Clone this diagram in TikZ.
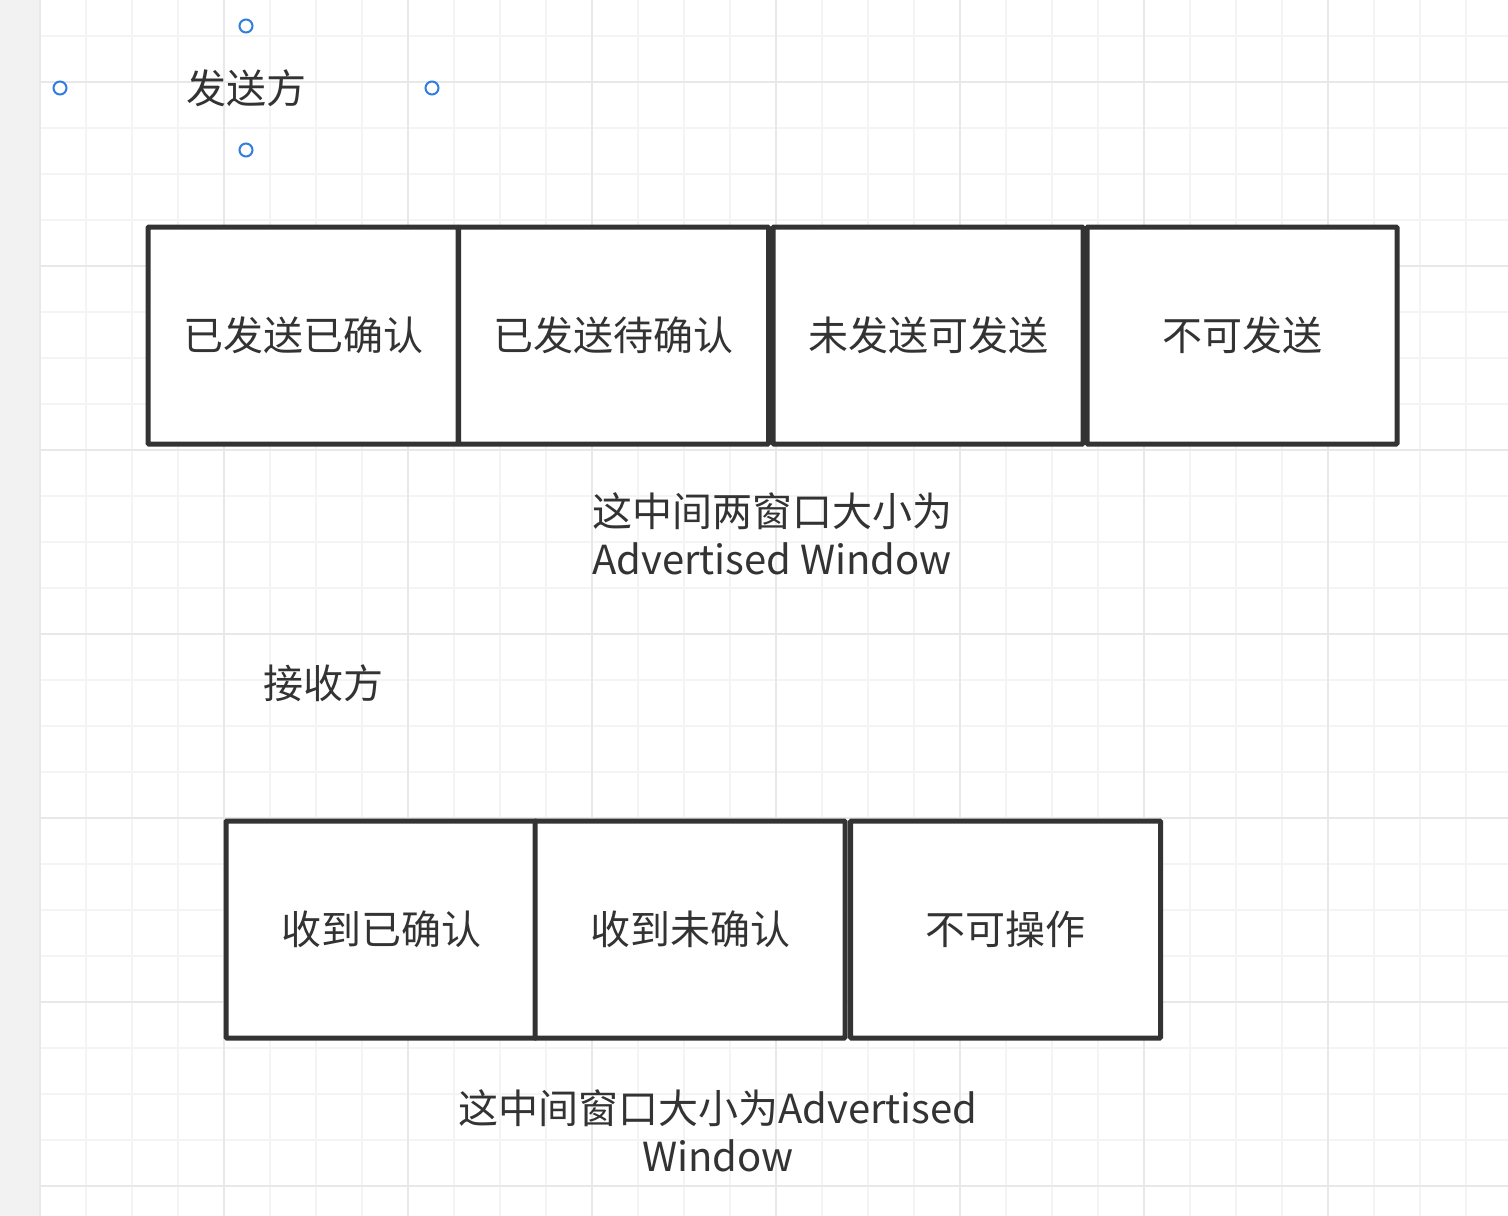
\documentclass[tikz,border=0pt]{standalone}
\usepackage{fontspec}
\setmainfont{Noto Sans CJK SC}
\usetikzlibrary{positioning}
\definecolor{ink}{HTML}{333333}
\definecolor{gridminor}{HTML}{F4F4F4}
\definecolor{gridmajor}{HTML}{E8E8E8}
\definecolor{sidebar}{HTML}{F2F2F2}
\definecolor{handle}{HTML}{2F7DE1}
\tikzstyle{cell} = [rectangle, draw=ink, line width=5pt, rounded corners=1pt, fill=white, minimum width=310pt, minimum height=217pt, inner sep=0pt, text=ink, font=\fontsize{40}{48}\selectfont]
\tikzstyle{label} = [align=center, inner sep=0pt, text=ink, font=\fontsize{40}{48}\selectfont]
\tikzstyle{hnode} = [circle, draw=handle, line width=2pt, fill=white, minimum size=13pt, inner sep=0pt]

\begin{document}
\begin{tikzpicture}[x=1pt, y=-1pt]
	\useasboundingbox (0,0) rectangle (1508,1216);
	\fill [white] (0,0) rectangle (1508,1216);
	\fill [sidebar] (0,0) rectangle (39,1216);
	% grid
	\foreach \x in {40,86,...,1508} \draw [gridminor, line width=1.5pt] (\x,0) -- (\x,1216);
	\foreach \y in {-10,36,...,1216} \draw [gridminor, line width=1.5pt] (40,\y) -- (1508,\y);
	\foreach \x in {40,224,...,1508} \draw [gridmajor, line width=2pt] (\x,0) -- (\x,1216);
	\foreach \y in {82,266,...,1216} \draw [gridmajor, line width=2pt] (40,\y) -- (1508,\y);

	% sender
	\node [label] (sender) at (246, 88) {发送方};
	\node [hnode] (hn) at (246, 26) {};
	\node [hnode] (hw) at (60, 88) {};
	\node [hnode] (he) at (432, 88) {};
	\node [hnode] (hs) at (246, 150) {};

	\node [cell] (s1) at (303, 335.5) {已发送已确认};
	\node [cell] (s2) at (613.5, 335.5) {已发送待确认};
	\node [cell] (s3) at (928, 335.5) {未发送可发送};
	\node [cell] (s4) at (1242, 335.5) {不可发送};
	\node [label] (snote) at (772, 534) {这中间两窗口大小为\\Advertised Window};

	% receiver
	\node [label] (receiver) at (323, 683) {接收方};
	\node [cell] (r1) at (381, 929.5) {收到已确认};
	\node [cell] (r2) at (690, 929.5) {收到未确认};
	\node [cell] (r3) at (1005.5, 929.5) {不可操作};
	\node [label] (rnote) at (718, 1131) {这中间窗口大小为Advertised\\Window};
\end{tikzpicture}
\end{document}
